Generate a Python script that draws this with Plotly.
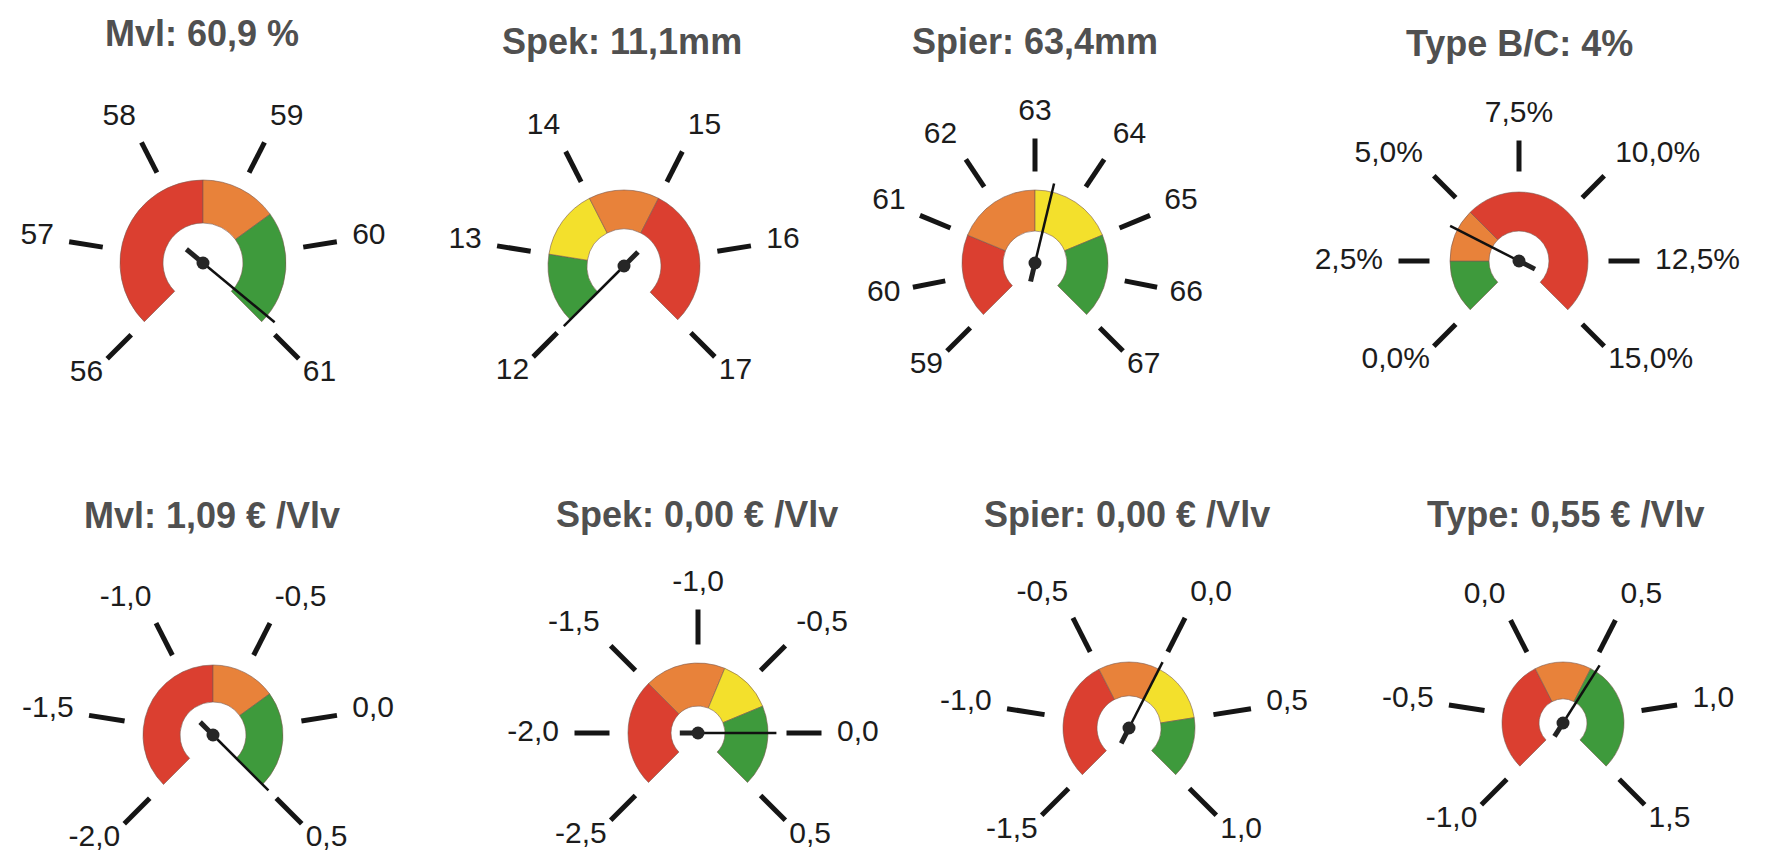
import math
import plotly.graph_objects as go

W, H = 1766, 865

# ---------------- data ----------------
titles = ["Mvl: 60,9 %", "Spek: 11,1mm", "Spier: 63,4mm", "Type B/C: 4%",
          "Mvl: 1,09 € /Vlv", "Spek: 0,00 € /Vlv", "Spier: 0,00 € /Vlv", "Type: 0,55 € /Vlv"]
needle_values = [60.9, 11.1, 63.4, 4.0, 1.09, 0.00, 0.00, 0.55]
scale_min = [56, 12, 59, 0.0, -2.0, -2.5, -1.5, -1.0]
scale_max = [61, 17, 67, 15.0, 0.5, 0.5, 1.0, 1.5]
tick_values = [
    [56, 57, 58, 59, 60, 61],
    [12, 13, 14, 15, 16, 17],
    [59, 60, 61, 62, 63, 64, 65, 66, 67],
    [0.0, 2.5, 5.0, 7.5, 10.0, 12.5, 15.0],
    [-2.0, -1.5, -1.0, -0.5, 0.0, 0.5],
    [-2.5, -2.0, -1.5, -1.0, -0.5, 0.0, 0.5],
    [-1.5, -1.0, -0.5, 0.0, 0.5, 1.0],
    [-1.0, -0.5, 0.0, 0.5, 1.0, 1.5],
]
tick_labels = [
    ["56", "57", "58", "59", "60", "61"],
    ["12", "13", "14", "15", "16", "17"],
    ["59", "60", "61", "62", "63", "64", "65", "66", "67"],
    ["0,0%", "2,5%", "5,0%", "7,5%", "10,0%", "12,5%", "15,0%"],
    ["-2,0", "-1,5", "-1,0", "-0,5", "0,0", "0,5"],
    ["-2,5", "-2,0", "-1,5", "-1,0", "-0,5", "0,0", "0,5"],
    ["-1,5", "-1,0", "-0,5", "0,0", "0,5", "1,0"],
    ["-1,0", "-0,5", "0,0", "0,5", "1,0", "1,5"],
]
band_edges = [
    [56, 58.5, 59.5, 61],
    [12, 13, 14, 15, 17],
    [59, 61, 63, 65, 67],
    [0.0, 2.5, 5.0, 15.0],
    [-2.0, -0.75, -0.25, 0.5],
    [-2.5, -1.5, -0.75, -0.25, 0.5],
    [-1.5, -0.5, 0.0, 0.5, 1.0],
    [-1.0, 0.0, 0.5, 1.5],
]
band_colors = [
    ["red", "orange", "green"],
    ["green", "yellow", "orange", "red"],
    ["red", "orange", "yellow", "green"],
    ["green", "orange", "red"],
    ["red", "orange", "green"],
    ["red", "orange", "yellow", "green"],
    ["red", "orange", "yellow", "green"],
    ["red", "orange", "green"],
]

# ---------------- styling / layout (pixels in the 1766x865 window) ----------------
palette = {"red": "#db3f30", "orange": "#e8823a", "yellow": "#f3e02c", "green": "#3e9a3c"}
centers = [(203, 263), (624, 266), (1035, 263), (1519, 261),
           (213, 735), (698, 733), (1129, 728), (1563, 723)]
r_outer = [83, 76, 73, 69, 70, 70, 66, 61]
r_inner = [40, 37, 32, 30, 33, 27, 32, 24]
tick_in = [101, 94, 91, 89, 89, 88, 85, 79]
tick_out = [135, 128, 124, 120, 125, 123, 123, 115]
label_radius = [195, 195, 195, 195, 180, 180, 180, 180]   # label subplot radius
title_pos = [(202, 33), (622, 41), (1035, 42), (1519, 44),
             (212, 515), (697, 514), (1127, 514), (1565, 514)]
SWEEP = 270.0
ROT = 225.0
SECTOR = [-46, 226]
S_LOW = math.sin(math.radians(46))
LABEL_SIZE = 30
FAMILY = "Liberation Sans, Arial, sans-serif"
LABEL_FONT = dict(family=FAMILY, size=LABEL_SIZE, color="#1c1c1c")
TITLE_FONT = dict(family=FAMILY, size=36, color="#505050")
CHAR_W = {",": 0.278, "-": 0.333, "%": 0.889, ".": 0.278}


def clamp(v):
    return max(-1.0, min(1.0, v))


def label_polar(s, screen_deg, r_tick):
    """label centre: its nearest corner sits a small gap beyond the tick end"""
    t = math.radians(screen_deg)
    c, sn = math.cos(t), math.sin(t)
    w = sum(CHAR_W.get(ch, 0.556) for ch in s) * LABEL_SIZE
    h = 0.72 * LABEL_SIZE
    g = 16 - 14 * max(0.0, -sn)
    px = (r_tick + g) * c + clamp(c / 0.5) * w / 2
    py = (r_tick + g) * sn + clamp(sn / 0.5) * h / 2
    return math.hypot(px, py), ROT - math.degrees(math.atan2(py, px))


fig = go.Figure()
layout_polars = {}
annotations = []

for i in range(8):
    vmin, vmax = scale_min[i], scale_max[i]

    def to_deg(v, vmin=vmin, vmax=vmax):
        v = min(max(v, vmin), vmax)
        return (v - vmin) / (vmax - vmin) * SWEEP

    main = f"polar{2 * i + 1}" if i > 0 else "polar"
    labs = f"polar{2 * i + 2}"
    cx, cy = centers[i]
    ti, to = tick_in[i], tick_out[i]
    R, Ri = r_outer[i], r_inner[i]
    RL = label_radius[i]
    tdeg = [to_deg(v) for v in tick_values[i]]

    # colour bands
    edges = band_edges[i]
    thetas, widths, cols = [], [], []
    for a, b, c in zip(edges[:-1], edges[1:], band_colors[i]):
        da, db = to_deg(a), to_deg(b)
        thetas.append((da + db) / 2)
        widths.append(db - da)
        cols.append(palette[c])
    fig.add_trace(go.Barpolar(
        r=[R - Ri] * len(thetas), base=[Ri] * len(thetas), theta=thetas, width=widths,
        marker=dict(color=cols, line=dict(color="#7a5a50", width=0.6)),
        subplot=main, showlegend=False, hoverinfo="skip"))

    # needle
    nd = to_deg(needle_values[i])
    nlen = 1.12 * R
    tail = 0.26 * R
    fig.add_trace(go.Scatterpolar(
        r=[0, nlen], theta=[nd, nd], mode="lines",
        line=dict(color="#111111", width=2.5),
        subplot=main, showlegend=False, hoverinfo="skip"))
    fig.add_trace(go.Scatterpolar(
        r=[0, tail], theta=[nd, nd + 180], mode="lines",
        line=dict(color="#222222", width=5),
        subplot=main, showlegend=False, hoverinfo="skip"))
    fig.add_trace(go.Scatterpolar(
        r=[0], theta=[0], mode="markers",
        marker=dict(color="#262626", size=13),
        subplot=main, showlegend=False, hoverinfo="skip"))

    # tick labels on a larger, transparent polar subplot sharing the same centre
    pts = [label_polar(s, ROT - d, to) for s, d in zip(tick_labels[i], tdeg)]
    fig.add_trace(go.Scatterpolar(
        r=[p[0] for p in pts], theta=[p[1] for p in pts], mode="text", text=tick_labels[i],
        textposition="middle center", textfont=LABEL_FONT, cliponaxis=False,
        subplot=labs, showlegend=False, hoverinfo="skip"))

    layout_polars[main] = dict(
        domain=dict(x=[(cx - ti) / W, (cx + ti) / W],
                    y=[1 - (cy + ti) / H, 1 - (cy - ti) / H]),
        bgcolor="rgba(0,0,0,0)",
        radialaxis=dict(range=[0, ti], visible=False, showgrid=False),
        angularaxis=dict(rotation=ROT, direction="clockwise", tickmode="array",
                         tickvals=tdeg, showticklabels=False, ticks="outside",
                         ticklen=to - ti, tickwidth=4.5, tickcolor="#151515",
                         showline=False, showgrid=False),
    )
    layout_polars[labs] = dict(
        domain=dict(x=[(cx - RL) / W, (cx + RL) / W],
                    y=[1 - (cy + S_LOW * RL) / H, 1 - (cy - RL) / H]),
        sector=SECTOR,
        bgcolor="rgba(0,0,0,0)",
        radialaxis=dict(range=[0, RL], visible=False, showgrid=False),
        angularaxis=dict(rotation=ROT, direction="clockwise", visible=False,
                         showgrid=False, showline=False),
    )

    tx, ty = title_pos[i]
    annotations.append(dict(
        x=tx / W, y=1 - ty / H, xref="paper", yref="paper",
        text=f"<b>{titles[i]}</b>", showarrow=False,
        xanchor="center", yanchor="middle", font=TITLE_FONT))

fig.update_layout(
    width=W, height=H,
    margin=dict(l=0, r=0, t=0, b=0),
    paper_bgcolor="white", plot_bgcolor="white",
    annotations=annotations,
    **layout_polars,
)

fig.write_html("out.html", config={"displayModeBar": False},
               post_script="document.body.style.margin='0px';document.body.style.overflow='hidden';")
